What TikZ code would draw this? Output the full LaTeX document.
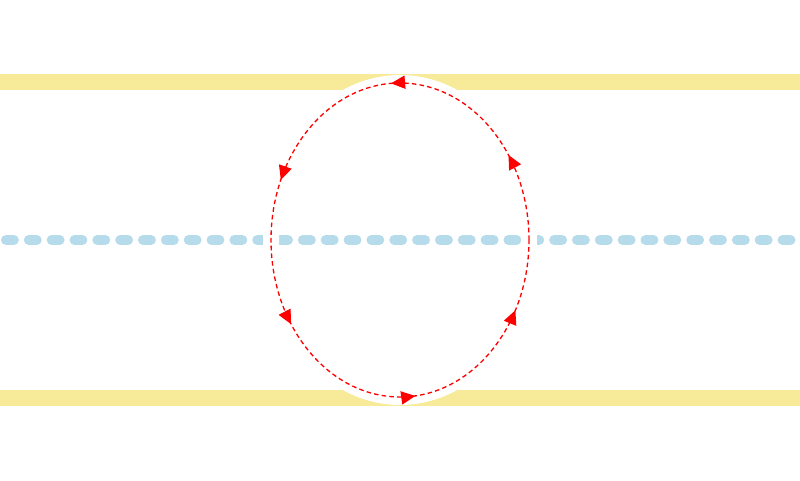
\documentclass[tikz,border=0pt]{standalone}
\usepackage{xcolor}
\usepackage{tikz}
\usetikzlibrary{arrows.meta,decorations.markings}
\definecolor{amarilloBand}{RGB}{247,234,152}
\definecolor{celesteLine}{RGB}{182,219,234}
\definecolor{rojoLoop}{RGB}{255,0,0}

\tikzset{
  band/.style={amarilloBand, line width=9.1pt},
  axisline/.style={celesteLine, line width=5.7pt, line cap=round,
    dash pattern=on 4.5pt off 8.5pt, dash phase=9.6pt},
  loopmask/.style={white, line width=9.1pt},
  looparrow/.style={rojoLoop, line width=0.75pt,
    dash pattern=on 2.6pt off 1.8pt,
    postaction={decorate},
    decoration={markings,
      mark=at position 0.098 with {\arrow{Triangle[length=8pt,width=7.5pt]}},
      mark=at position 0.260 with {\arrow{Triangle[length=8pt,width=7.5pt]}},
      mark=at position 0.432 with {\arrow{Triangle[length=8pt,width=7.5pt]}},
      mark=at position 0.597 with {\arrow{Triangle[length=8pt,width=7.5pt]}},
      mark=at position 0.767 with {\arrow{Triangle[length=8pt,width=7.5pt]}},
      mark=at position 0.920 with {\arrow{Triangle[length=8pt,width=7.5pt]}}}}
}

\begin{document}
\begin{tikzpicture}[x=0.02cm,y=0.02cm]
  \useasboundingbox (0,0) rectangle (800,480);
  \coordinate (centro) at (400,240);
  % Yellow bands
  \draw[band] (0,398) -- (800,398);
  \draw[band] (0,82) -- (800,82);
  % Dashed axis
  \draw[axisline] (0,240) -- (800,240);
  % Loop
  \draw[loopmask] (centro) ellipse [x radius=129, y radius=157];
  \draw[looparrow] (centro) ellipse [x radius=129, y radius=157];
\end{tikzpicture}
\end{document}
